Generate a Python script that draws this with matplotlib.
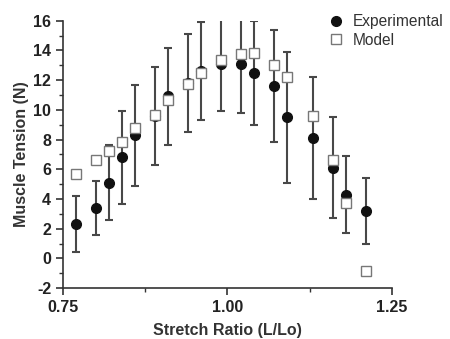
import numpy as np
import matplotlib.pyplot as plt
from matplotlib.ticker import MultipleLocator

plt.rcParams['font.family'] = ['Liberation Sans', 'DejaVu Sans']
plt.rcParams['axes.unicode_minus'] = False

# stretch ratio (L/Lo)
ratio = [0.77, 0.80, 0.82, 0.84, 0.86, 0.89, 0.91, 0.94, 0.96, 0.99,
         1.02, 1.04, 1.07, 1.09, 1.13, 1.16, 1.18, 1.21]
# experimental tension (N) and its error
exp_tension = [2.3, 3.4, 5.1, 6.8, 8.3, 9.6, 10.9, 11.8, 12.6, 13.1,
               13.1, 12.5, 11.6, 9.5, 8.1, 6.1, 4.3, 3.2]
exp_err = [1.9, 1.8, 2.5, 3.15, 3.4, 3.3, 3.25, 3.3, 3.3, 3.2,
           3.3, 3.5, 3.75, 4.4, 4.1, 3.4, 2.6, 2.2]
# model prediction (N)
model_tension = [5.7, 6.6, 7.25, 7.85, 8.75, 9.65, 10.65, 11.75, 12.5, 13.35,
                 13.75, 13.8, 13.05, 12.2, 9.6, 6.6, 3.75, -0.85]

fig = plt.figure(figsize=(4.5, 3.39), dpi=100)
ax = fig.add_axes([0.14, 0.15, 0.731, 0.789])

eb = ax.errorbar(ratio, exp_tension, yerr=exp_err, fmt='o', color='#111111',
                 ecolor='#484848', elinewidth=1.5, capsize=3, capthick=1.5,
                 markersize=7, zorder=2)
mdl, = ax.plot(ratio, model_tension, 's', markerfacecolor='white',
               markeredgecolor='#777777', markeredgewidth=1.0, markersize=6.5,
               zorder=3)

ax.set_xlim(0.75, 1.25)
ax.set_ylim(-2, 16)
ax.xaxis.set_major_locator(MultipleLocator(0.25))
ax.xaxis.set_minor_locator(MultipleLocator(0.125))
ax.yaxis.set_major_locator(MultipleLocator(2))
ax.yaxis.set_minor_locator(MultipleLocator(1))
ax.set_xticklabels([], minor=True)
ax.xaxis.set_major_formatter(plt.FuncFormatter(lambda v, p: '%.2f' % v))

for s in ['top', 'right']:
    ax.spines[s].set_visible(False)
for s in ['left', 'bottom']:
    ax.spines[s].set_linewidth(1.2)
    ax.spines[s].set_color('#333333')

ax.tick_params(which='major', direction='out', length=5, width=1.2,
               labelsize=11.5, colors='#333333', labelcolor='#222222')
ax.tick_params(which='minor', direction='out', length=3, width=1.0,
               colors='#333333')
for lbl in ax.get_xticklabels() + ax.get_yticklabels():
    lbl.set_fontweight('bold')

ax.set_xlabel('Stretch Ratio (L/Lo)', fontsize=11.5, fontweight='bold',
              color='#333333', labelpad=6)
ax.set_ylabel('Muscle Tension (N)', fontsize=11.5, fontweight='bold',
              color='#333333', labelpad=3)

leg = ax.legend([eb.lines[0], mdl], ['Experimental', 'Model'],
                loc='upper right', bbox_to_anchor=(1.185, 1.06), frameon=False,
                fontsize=11.2, handletextpad=0.5, labelspacing=0.25,
                borderaxespad=0.2, handlelength=1.2)
for t in leg.get_texts():
    t.set_color('#333333')

fig.savefig('out.png', dpi=100)
